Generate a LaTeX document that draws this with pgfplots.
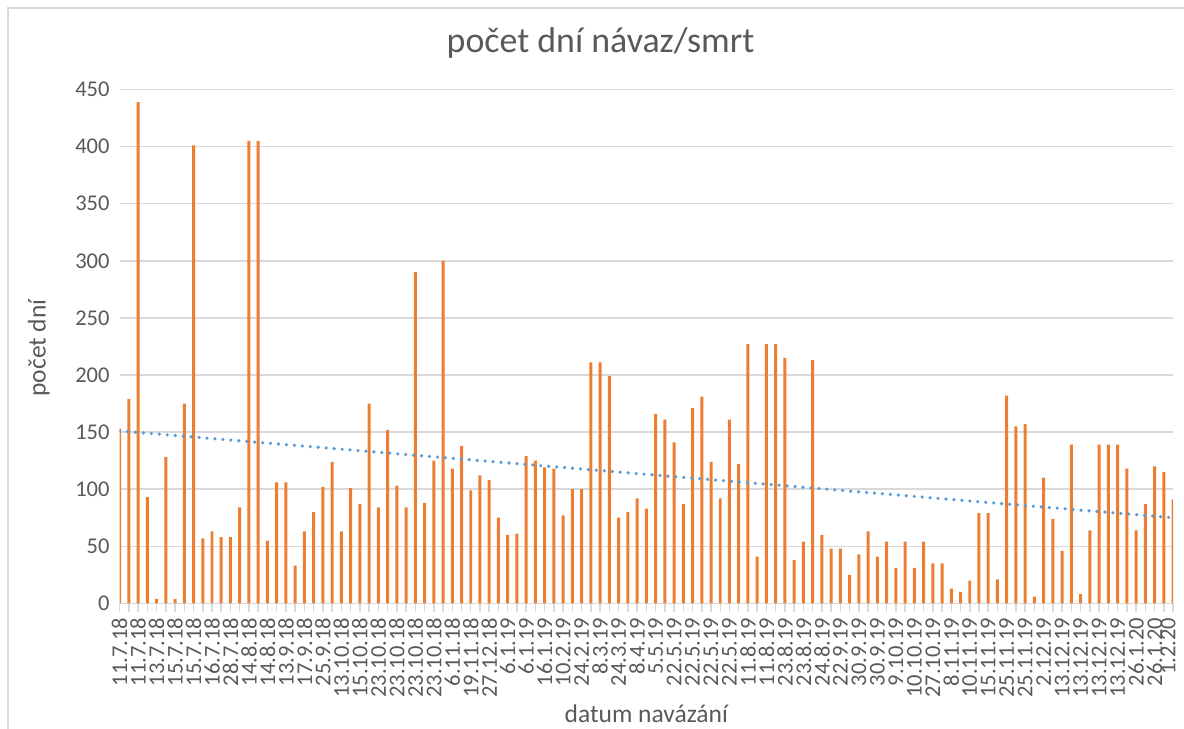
\documentclass[border=0pt]{standalone}
\usepackage{pgfplots}
\pgfplotsset{compat=1.18}
\usepackage{fontspec}
\setmainfont{Carlito}
\definecolor{barorange}{HTML}{ED7D31}
\definecolor{trendblue}{HTML}{5B9BD5}
\definecolor{gridgray}{HTML}{D9D9D9}
\definecolor{txtgray}{HTML}{595959}
\begin{document}
\begin{tikzpicture}
\useasboundingbox (0pt,0pt) rectangle (594pt,365.7pt);
\draw[gridgray, line width=0.6pt] (4pt,0pt) -- (4pt,361.7pt) -- (594pt,361.7pt);
\begin{axis}[
 at={(60pt,63pt)}, anchor=south west,
 scale only axis, width=528.5pt, height=257.8pt,
 xmin=0, xmax=114, ymin=0, ymax=450,
 ytick={0,50,...,450},
 xtick={0,2,...,112},
 minor xtick={1,3,...,113},
 xticklabels={11.7.18,11.7.18,13.7.18,15.7.18,15.7.18,16.7.18,28.7.18,14.8.18,14.8.18,13.9.18,17.9.18,25.9.18,13.10.18,15.10.18,23.10.18,23.10.18,23.10.18,23.10.18,6.11.18,19.11.18,27.12.18,6.1.19,6.1.19,16.1.19,10.2.19,24.2.19,8.3.19,24.3.19,8.4.19,5.5.19,22.5.19,22.5.19,22.5.19,22.5.19,11.8.19,11.8.19,23.8.19,23.8.19,24.8.19,22.9.19,30.9.19,30.9.19,9.10.19,10.10.19,27.10.19,8.11.19,10.11.19,15.11.19,25.11.19,25.11.19,2.12.19,13.12.19,13.12.19,13.12.19,13.12.19,26.1.20,26.1.20},
 extra x ticks={114},
 extra x tick labels={1.2.20},
 extra x tick style={xticklabel style={yshift=2.5pt}},
 separate axis lines,
 axis x line*=bottom,
 axis y line*=left,
 x axis line style={gridgray, line width=0.75pt},
 y axis line style={draw=none},
 ymajorgrids, major grid style={gridgray, line width=0.75pt},
 tick align=outside,
 xtick style={gridgray, line width=0.75pt},
 major tick length=4.5pt, minor tick length=4.5pt,
 ytick style={draw=none},
 tick label style={font=\fontsize{11.3}{13}\selectfont, text=txtgray},
 xticklabel style={yshift=-1.5pt, rotate=90, anchor=east, inner sep=1pt},
 yticklabel style={xshift=3pt},
 /pgf/number format/assume math mode=true,
 title={počet dní návaz/smrt},
 title style={at={(axis description cs:0.4565,1.067)}, anchor=center, font=\fontsize{18}{22}\selectfont, text=txtgray},
 xlabel={datum navázání},
 xlabel style={at={(axis description cs:0.5,-0.214)}, anchor=center, font=\fontsize{12.8}{15}\selectfont, text=txtgray},
 ylabel={počet dní},
 ylabel style={at={(axis description cs:-0.0766,0.497)}, anchor=center, font=\fontsize{12.8}{15}\selectfont, text=txtgray},
]
\addplot[ybar, bar width=1.5pt, fill=barorange, draw=none] coordinates {
(0,153) (1,179) (2,439) (3,93) (4,4) (5,128) (6,4) (7,175) (8,401) (9,57)
(10,63) (11,58) (12,58) (13,84) (14,405) (15,405) (16,55) (17,106) (18,106) (19,33)
(20,63) (21,80) (22,102) (23,124) (24,63) (25,101) (26,87) (27,175) (28,84) (29,152)
(30,103) (31,84) (32,290) (33,88) (34,125) (35,300) (36,118) (37,138) (38,99) (39,112)
(40,108) (41,75) (42,60) (43,61) (44,129) (45,125) (46,119) (47,118) (48,77) (49,100)
(50,100) (51,211) (52,211) (53,199) (54,75) (55,80) (56,92) (57,83) (58,166) (59,161)
(60,141) (61,87) (62,171) (63,181) (64,124) (65,92) (66,161) (67,122) (68,227) (69,41)
(70,227) (71,227) (72,215) (73,38) (74,54) (75,213) (76,60) (77,48) (78,48) (79,25)
(80,43) (81,63) (82,41) (83,54) (84,31) (85,54) (86,31) (87,54) (88,35) (89,35)
(90,13) (91,10) (92,20) (93,79) (94,79) (95,21) (96,182) (97,155) (98,157) (99,6)
(100,110) (101,74) (102,46) (103,139) (104,8) (105,64) (106,139) (107,139) (108,139) (109,118)
(110,64) (111,87) (112,120) (113,115) (114,91)
};
\addplot[trendblue, line width=1.8pt, line cap=round, dash pattern=on 0pt off 4pt] coordinates {(0,151) (114,75)};
\end{axis}
\end{tikzpicture}
\end{document}
